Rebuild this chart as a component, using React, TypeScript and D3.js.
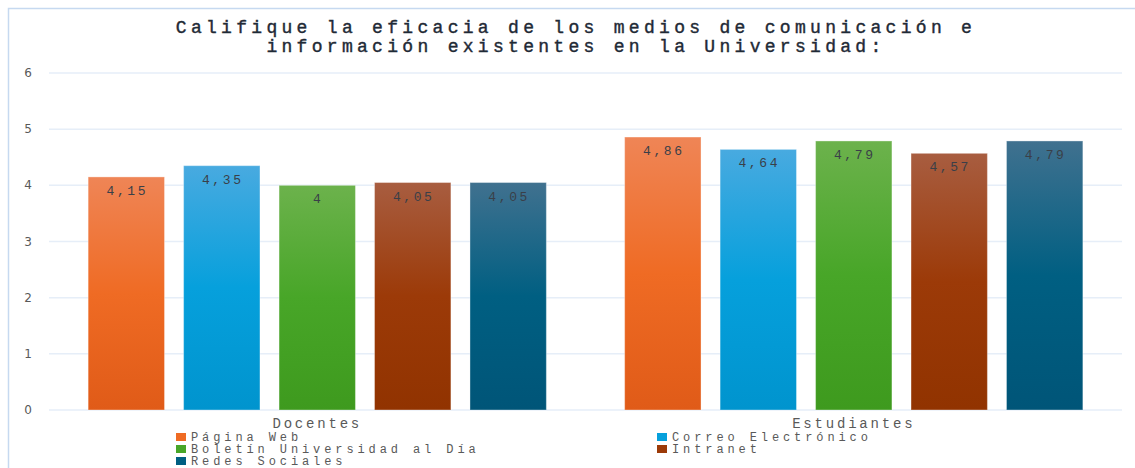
import React, { useEffect, useRef } from "react";
import * as d3 from "d3";

const categories = ["Docentes", "Estudiantes"];
const series = [
  "Página Web",
  "Correo Electrónico",
  "Boletín Universidad al Día",
  "Intranet",
  "Redes Sociales",
];
const values: number[][] = [
  [4.15, 4.35, 4.0, 4.05, 4.05],
  [4.86, 4.64, 4.79, 4.57, 4.79],
];
const yTicks = [0, 1, 2, 3, 4, 5, 6];
const titleLines = [
  "Califique la eficacia de los medios de comunicación e",
  "información existentes en la Universidad:",
];

// top, middle, bottom stops
const gradients = [
  ["#EF8556", "#EF6B24", "#E05B18"],
  ["#48AAE0", "#06A0DC", "#0094CE"],
  ["#6CB24C", "#48A628", "#3E9A1E"],
  ["#A85D40", "#9C3A08", "#913300"],
  ["#40718F", "#005F82", "#005578"],
];
const legendColors = ["#EF6B24", "#06A0DC", "#48A628", "#9C3A08", "#005F82"];

const mono = "Liberation Mono, Courier New, DejaVu Sans Mono, monospace";

export default function App() {
  const ref = useRef<SVGSVGElement | null>(null);

  useEffect(() => {
    const width = 1135;
    const height = 468;
    const svg = d3.select(ref.current);
    svg.selectAll("*").remove();
    svg.attr("width", width).attr("height", height);

    const left = 49;
    const right = 1122;
    const top = 73;
    const bottom = 410;

    // gradients
    const defs = svg.append("defs");
    gradients.forEach((g, i) => {
      const lg = defs
        .append("linearGradient")
        .attr("id", `grad${i}`)
        .attr("x1", 0)
        .attr("y1", 0)
        .attr("x2", 0)
        .attr("y2", 1);
      lg.append("stop").attr("offset", "0%").attr("stop-color", g[0]);
      lg.append("stop").attr("offset", "50%").attr("stop-color", g[1]);
      lg.append("stop").attr("offset", "100%").attr("stop-color", g[2]);
    });

    // frame
    svg
      .append("path")
      .attr("d", `M8.5,${height} V8.5 H${width}`)
      .attr("fill", "none")
      .attr("stroke", "#C6D9F0")
      .attr("stroke-width", 1.5);

    // title
    svg
      .append("g")
      .selectAll("text")
      .data(titleLines)
      .enter()
      .append("text")
      .attr("x", 576)
      .attr("y", (_d, i) => 33 + i * 19)
      .attr("text-anchor", "middle")
      .attr("font-family", mono)
      .attr("font-size", 18)
      .attr("letter-spacing", 4.3)
      .attr("fill", "#1F2A36")
      .attr("stroke", "#1F2A36")
      .attr("stroke-width", 0.4)
      .text((d) => d);

    const y = d3.scaleLinear().domain([0, 6]).range([bottom, top]);
    const x0 = d3.scaleBand().domain(categories).range([left, right]);
    const x1 = d3
      .scaleBand()
      .domain(series)
      .range([0, x0.bandwidth()])
      .paddingInner(0.2)
      .paddingOuter(0.41);

    // gridlines
    svg
      .append("g")
      .selectAll("line")
      .data(yTicks)
      .enter()
      .append("line")
      .attr("x1", left)
      .attr("x2", right)
      .attr("y1", (d) => y(d))
      .attr("y2", (d) => y(d))
      .attr("stroke", "#E6EEF8")
      .attr("stroke-width", 1.5);

    // y tick labels
    svg
      .append("g")
      .selectAll("text")
      .data(yTicks)
      .enter()
      .append("text")
      .attr("x", 28)
      .attr("y", (d) => y(d) + 4)
      .attr("text-anchor", "middle")
      .attr("font-family", "DejaVu Sans, sans-serif")
      .attr("font-size", 12)
      .attr("fill", "#595959")
      .text((d) => d);

    // bars
    const groups = svg
      .append("g")
      .selectAll("g")
      .data(categories)
      .enter()
      .append("g")
      .attr("transform", (d) => `translate(${x0(d)},0)`);

    groups
      .selectAll("rect")
      .data((_d, ci) => values[ci].map((v, si) => ({ v, si })))
      .enter()
      .append("rect")
      .attr("x", (d) => x1(series[d.si]) ?? 0)
      .attr("y", (d) => y(d.v))
      .attr("width", x1.bandwidth())
      .attr("height", (d) => y(0) - y(d.v))
      .attr("fill", (d) => `url(#grad${d.si})`)
      .attr("stroke", "rgba(255,255,255,0.35)")
      .attr("stroke-width", 1);

    groups
      .selectAll("text")
      .data((_d, ci) => values[ci].map((v, si) => ({ v, si })))
      .enter()
      .append("text")
      .attr("x", (d) => (x1(series[d.si]) ?? 0) + x1.bandwidth() / 2 + 1)
      .attr("y", (d) => y(d.v) + 18)
      .attr("text-anchor", "middle")
      .attr("font-family", mono)
      .attr("font-size", 13)
      .attr("letter-spacing", 2.6)
      .attr("fill", "#3A3F48")
      .text((d) => String(d.v).replace(".", ","));

    // category labels
    svg
      .append("g")
      .selectAll("text")
      .data(categories)
      .enter()
      .append("text")
      .attr("x", (d) => (x0(d) ?? 0) + x0.bandwidth() / 2)
      .attr("y", 428)
      .attr("text-anchor", "middle")
      .attr("font-family", mono)
      .attr("font-size", 14)
      .attr("letter-spacing", 2.8)
      .attr("fill", "#595959")
      .text((d) => d);

    // legend
    const legend = svg
      .append("g")
      .selectAll("g")
      .data(series)
      .enter()
      .append("g")
      .attr(
        "transform",
        (_d, i) => `translate(${i % 2 === 0 ? 176 : 657},${441 + Math.floor(i / 2) * 12})`
      );
    legend
      .append("rect")
      .attr("x", 0)
      .attr("y", -8)
      .attr("width", 10)
      .attr("height", 8)
      .attr("fill", (_d, i) => legendColors[i]);
    legend
      .append("text")
      .attr("x", 15)
      .attr("y", 0)
      .attr("font-family", mono)
      .attr("font-size", 12)
      .attr("letter-spacing", 3.9)
      .attr("fill", "#595959")
      .text((d) => d);
  }, []);

  return (
    <svg
      ref={ref}
      style={{ position: "absolute", left: 0, top: 0, background: "#fff" }}
    ></svg>
  );
}
